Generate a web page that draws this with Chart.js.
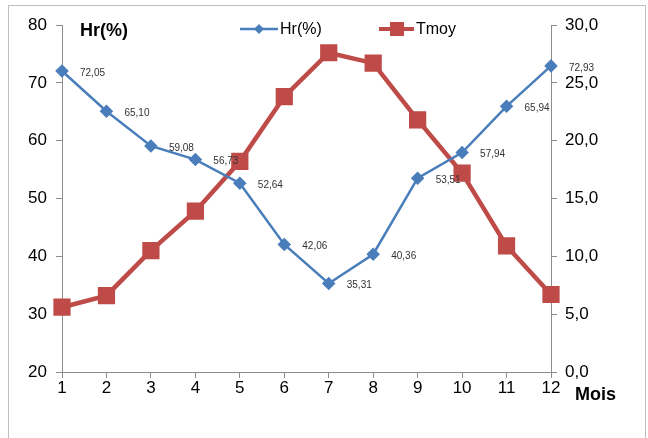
<!DOCTYPE html>
<html>
<head>
<meta charset="utf-8">
<script src="https://cdn.jsdelivr.net/npm/chart.js@4/dist/chart.umd.min.js"></script>
<style>
  html, body { margin: 0; padding: 0; background: #fff; }
  #wrap { width: 648px; height: 438px; }
</style>
</head>
<body>
<div id="wrap"><canvas id="hrChart" width="648" height="438"></canvas></div>
<script>
const mois = ["1", "2", "3", "4", "5", "6", "7", "8", "9", "10", "11", "12"];
const hr = [72.05, 65.10, 59.08, 56.73, 52.64, 42.06, 35.31, 40.36, 53.51, 57.94, 65.94, 72.93];
const tmoy = [5.6, 6.6, 10.5, 13.9, 18.2, 23.8, 27.6, 26.7, 21.8, 17.2, 10.9, 6.7];
const hrTicks = [20, 30, 40, 50, 60, 70, 80];
const tmoyTicks = [0, 5, 10, 15, 20, 25, 30];

const BLUE = "#4a7ebb";
const RED = "#be4b48";
const AXIS = "#8c8c8c";
const FONT = "'Liberation Sans Narrow', 'Liberation Sans', sans-serif";

const fr = v => v.toFixed(2).replace(".", ",");

const extras = {
  id: "extras",
  beforeDraw(chart) {
    const ctx = chart.ctx;
    ctx.save();
    ctx.strokeStyle = "#bfbfbf";
    ctx.lineWidth = 1;
    ctx.strokeRect(8.5, 5.5, 637, 450);
    ctx.restore();
  },
  afterDatasetsDraw(chart) {
    const ctx = chart.ctx;
    ctx.save();
    // etiquettes Hr
    const meta = chart.getDatasetMeta(0);
    ctx.fillStyle = "#333";
    ctx.font = "10px " + FONT;
    ctx.textBaseline = "middle";
    ctx.textAlign = "left";
    meta.data.forEach((pt, i) => {
      ctx.fillText(fr(hr[i]), pt.x + 18, pt.y + 2);
    });

    // titres
    ctx.fillStyle = "#000";
    ctx.font = "bold 18px " + FONT;
    ctx.fillText("Hr(%)", 80, 31);
    ctx.fillText("Mois", 575, 395);

    // legende
    ctx.font = "16px " + FONT;
    ctx.lineWidth = 2.5;
    ctx.strokeStyle = BLUE;
    ctx.beginPath(); ctx.moveTo(240, 29); ctx.lineTo(278, 29); ctx.stroke();
    ctx.fillStyle = BLUE;
    ctx.beginPath();
    ctx.moveTo(259, 24); ctx.lineTo(264, 29); ctx.lineTo(259, 34); ctx.lineTo(254, 29);
    ctx.closePath(); ctx.fill();
    ctx.fillStyle = "#000";
    ctx.fillText("Hr(%)", 280, 30);

    ctx.lineWidth = 4;
    ctx.strokeStyle = RED;
    ctx.beginPath(); ctx.moveTo(379, 29); ctx.lineTo(414, 29); ctx.stroke();
    ctx.fillStyle = RED;
    ctx.fillRect(390, 22, 14, 14);
    ctx.fillStyle = "#000";
    ctx.fillText("Tmoy", 416, 30);
    ctx.restore();
  }
};

new Chart(document.getElementById("hrChart"), {
  type: "line",
  data: {
    labels: mois,
    datasets: [{
      label: "Hr(%)",
      data: hr,
      yAxisID: "y",
      borderColor: BLUE,
      backgroundColor: BLUE,
      borderWidth: 2.5,
      pointStyle: "rectRot",
      pointRadius: 5,
      pointHoverRadius: 5,
      tension: 0,
      order: 1
    }, {
      label: "Tmoy",
      data: tmoy,
      yAxisID: "y1",
      borderColor: RED,
      backgroundColor: RED,
      borderWidth: 4.5,
      pointStyle: "rect",
      pointRadius: 9,
      pointHoverRadius: 9,
      tension: 0,
      order: 2
    }]
  },
  options: {
    responsive: false,
    animation: false,
    layout: { padding: { top: 25, left: 0, right: 0, bottom: 0 } },
    plugins: {
      legend: { display: false },
      tooltip: { enabled: false }
    },
    scales: {
      x: {
        offset: false,
        grid: { drawOnChartArea: false, color: AXIS, tickLength: 6 },
        border: { color: AXIS },
        ticks: { color: "#000", font: { family: FONT, size: 17 }, padding: 0, maxRotation: 0 },
        afterFit(s) { s.height = 66; }
      },
      y: {
        position: "left",
        min: 20, max: 80,
        afterBuildTicks(s) { s.ticks = hrTicks.map(v => ({ value: v })); },
        grid: { drawOnChartArea: false, color: AXIS, tickLength: 6 },
        border: { color: AXIS },
        ticks: { color: "#000", font: { family: FONT, size: 17 }, padding: 9 },
        afterFit(s) { s.width = 62; }
      },
      y1: {
        position: "right",
        min: 0, max: 30,
        afterBuildTicks(s) { s.ticks = tmoyTicks.map(v => ({ value: v })); },
        grid: { drawOnChartArea: false, color: AXIS, tickLength: 6 },
        border: { color: AXIS },
        ticks: {
          color: "#000", font: { family: FONT, size: 17 }, padding: 8,
          callback: v => v.toFixed(1).replace(".", ",")
        },
        afterFit(s) { s.width = 97; }
      }
    }
  },
  plugins: [extras]
});
</script>
</body>
</html>
